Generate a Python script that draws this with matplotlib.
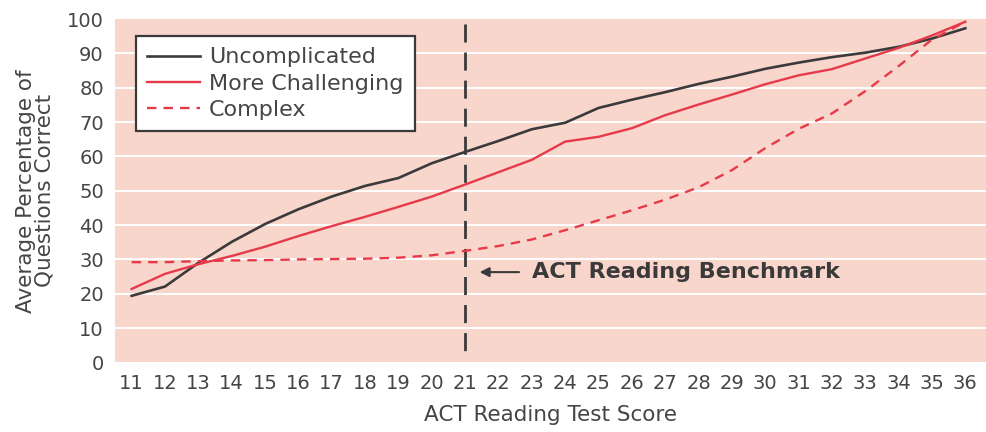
import matplotlib.pyplot as plt

# ACT reading score vs average % of questions correct, by text complexity
scores = list(range(11, 37))
uncomplicated = [19.4, 22.1, 29.0, 35.1, 40.3, 44.6, 48.3, 51.4, 53.7, 58.0, 61.3,
                 64.5, 67.9, 69.8, 74.1, 76.5, 78.7, 81.1, 83.2, 85.5, 87.3, 88.9,
                 90.2, 91.9, 94.3, 97.3]
more_challenging = [21.4, 25.8, 28.6, 31.0, 33.7, 36.8, 39.7, 42.4, 45.3, 48.3, 51.8,
                    55.4, 59.0, 64.3, 65.7, 68.2, 72.0, 75.1, 78.0, 81.0, 83.6, 85.4,
                    88.5, 91.6, 95.2, 99.2]
complex_ = [29.2, 29.2, 29.5, 29.7, 29.8, 30.0, 30.1, 30.2, 30.5, 31.2, 32.5,
            33.9, 35.8, 38.5, 41.4, 44.3, 47.4, 51.0, 56.0, 62.4, 68.0, 72.5,
            79.0, 86.3, 94.0, 99.2]
benchmark = 21
yticks = list(range(0, 101, 10))

TEXT = "#454545"
DARK = "#3a3a3a"
RED = "#e63a4a"
BG = "#f9d6cc"

fig = plt.figure(figsize=(9.87, 4.32), dpi=100)
ax = fig.add_axes([0.1165, 0.161, 0.8835, 0.795])
ax.set_facecolor(BG)

for y in yticks[1:-1]:
    ax.axhline(y, color="white", linewidth=1.4, zorder=1)

ax.plot(scores, uncomplicated, color=DARK, linewidth=1.9, label="Uncomplicated", zorder=3)
ax.plot(scores, more_challenging, color=RED, linewidth=1.7, label="More Challenging", zorder=3)
ax.plot(scores, complex_, color=RED, linewidth=1.7, dashes=(4, 3), label="Complex", zorder=3)

# benchmark marker, drawn top-down so the dash pattern starts at the top
ax.plot([benchmark, benchmark], [98.5, 1], color=DARK, linewidth=2, dashes=(6.5, 3.6), zorder=2)
ax.annotate("", xy=(21.35, 26.3), xytext=(22.7, 26.3),
            arrowprops=dict(arrowstyle="-|>", color=DARK, lw=1.5, mutation_scale=14), zorder=4)
ax.text(23.0, 26.3, "ACT Reading Benchmark", fontsize=16, fontweight="bold",
        color=DARK, va="center", ha="left")

ax.set_xlim(10.5, 36.65)
ax.set_ylim(0, 100)
ax.set_xticks(scores)
ax.set_yticks(yticks)
ax.tick_params(length=0, labelsize=14, colors=TEXT, pad=8)
for s in ax.spines.values():
    s.set_visible(False)

ax.set_xlabel("ACT Reading Test Score", fontsize=15.5, color=TEXT, labelpad=9)
ax.set_ylabel("Average Percentage of\nQuestions Correct", fontsize=15.5, color=TEXT,
              labelpad=9, linespacing=0.9)

leg = ax.legend(loc="upper left", bbox_to_anchor=(0.024, 0.95), fontsize=16,
                frameon=True, fancybox=False, framealpha=1, edgecolor=DARK,
                handlelength=2.4, labelspacing=0.28, borderpad=0.5, handletextpad=0.4,
                borderaxespad=0)
leg.get_frame().set_linewidth(1.6)
for t in leg.get_texts():
    t.set_color(TEXT)

fig.savefig("out.png", dpi=100)
